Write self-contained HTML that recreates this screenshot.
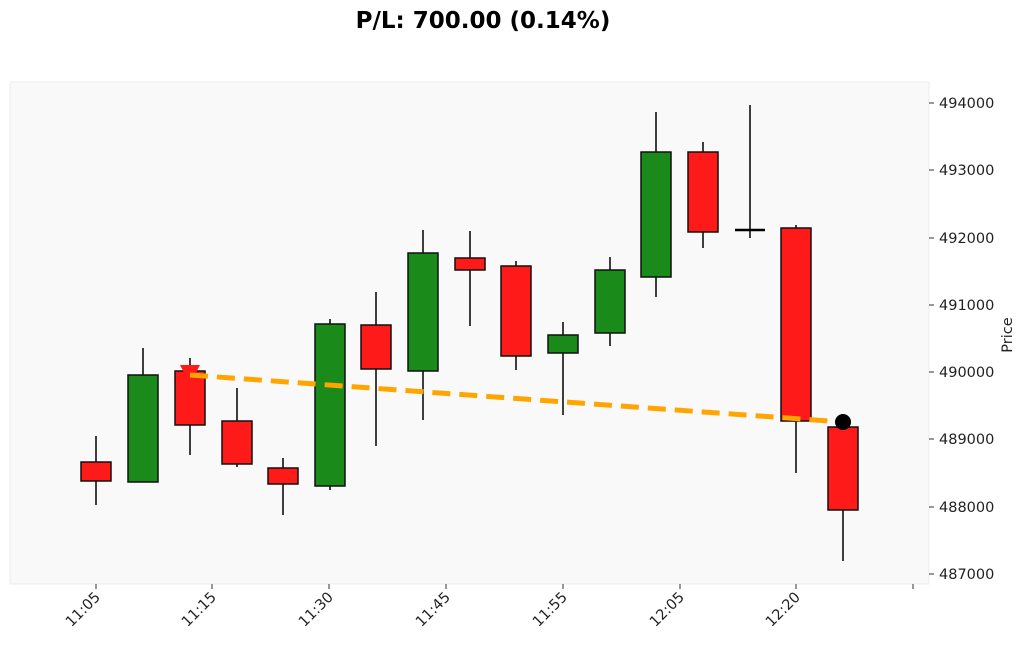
<!DOCTYPE html><html><head><meta charset="utf-8"><style>body{margin:0;background:#fff}</style></head><body>
<svg width="1024" height="644" viewBox="0 0 1024 644" xmlns="http://www.w3.org/2000/svg" font-family="'DejaVu Sans','Liberation Sans',sans-serif">
<rect width="1024" height="644" fill="#fff"/>
<text x="483" y="28" text-anchor="middle" font-size="23" font-weight="bold" fill="#000">P/L: 700.00 (0.14%)</text>
<rect x="10" y="82" width="919" height="502" fill="#f9f9f9" stroke="#ececec"/>
<g stroke="#000" stroke-width="1.5">
<line x1="96" y1="436" x2="96" y2="505"/><line x1="143" y1="348" x2="143" y2="482"/><line x1="190" y1="358" x2="190" y2="455"/><line x1="237" y1="388" x2="237" y2="467"/><line x1="283" y1="458" x2="283" y2="515"/><line x1="330" y1="319" x2="330" y2="490"/><line x1="376" y1="292" x2="376" y2="446"/><line x1="423" y1="230" x2="423" y2="420"/><line x1="470" y1="231" x2="470" y2="326"/><line x1="516" y1="261" x2="516" y2="370"/><line x1="563" y1="322" x2="563" y2="415"/><line x1="610" y1="257" x2="610" y2="346"/><line x1="656" y1="112" x2="656" y2="297"/><line x1="703" y1="142" x2="703" y2="248"/><line x1="750" y1="105" x2="750" y2="238"/><line x1="796" y1="225" x2="796" y2="473"/><line x1="843" y1="427" x2="843" y2="561"/>
</g>
<g stroke="#111" stroke-width="1.5">
<rect x="81" y="462" width="30" height="19" fill="#ff1a1a"/>
<rect x="128" y="375" width="30" height="107" fill="#1a8a1a"/>
<rect x="175" y="371" width="30" height="54" fill="#ff1a1a"/>
<rect x="222" y="421" width="30" height="43" fill="#ff1a1a"/>
<rect x="268" y="468" width="30" height="16" fill="#ff1a1a"/>
<rect x="315" y="324" width="30" height="162" fill="#1a8a1a"/>
<rect x="361" y="325" width="30" height="44" fill="#ff1a1a"/>
<rect x="408" y="253" width="30" height="118" fill="#1a8a1a"/>
<rect x="455" y="258" width="30" height="12" fill="#ff1a1a"/>
<rect x="501" y="266" width="30" height="90" fill="#ff1a1a"/>
<rect x="548" y="335" width="30" height="18" fill="#1a8a1a"/>
<rect x="595" y="270" width="30" height="63" fill="#1a8a1a"/>
<rect x="641" y="152" width="30" height="125" fill="#1a8a1a"/>
<rect x="688" y="152" width="30" height="80" fill="#ff1a1a"/>
<rect x="781" y="228" width="30" height="193" fill="#ff1a1a"/>
<rect x="828" y="427" width="30" height="83" fill="#ff1a1a"/>
</g>
<line x1="735" y1="230" x2="765" y2="230" stroke="#000" stroke-width="2.5"/>
<polygon points="180,365 200,365 190,384" fill="#ff1a1a"/>
<line x1="190" y1="375" x2="843" y2="422" stroke="#ffa500" stroke-width="5" stroke-dasharray="18,9"/>
<circle cx="843" cy="422" r="8" fill="#000"/>
<g font-size="14.5" fill="#222">
<g stroke="#333"><line x1="929" y1="103" x2="934" y2="103"/><line x1="929" y1="170" x2="934" y2="170"/><line x1="929" y1="238" x2="934" y2="238"/><line x1="929" y1="305" x2="934" y2="305"/><line x1="929" y1="372" x2="934" y2="372"/><line x1="929" y1="439" x2="934" y2="439"/><line x1="929" y1="507" x2="934" y2="507"/><line x1="929" y1="574" x2="934" y2="574"/></g>
<text x="939" y="108">494000</text><text x="939" y="175">493000</text><text x="939" y="243">492000</text><text x="939" y="310">491000</text><text x="939" y="377">490000</text><text x="939" y="444">489000</text><text x="939" y="512">488000</text><text x="939" y="579">487000</text>
<text transform="translate(1012,335) rotate(-90)" text-anchor="middle">Price</text>
<g stroke="#333"><line x1="96" y1="584" x2="96" y2="589"/><line x1="212" y1="584" x2="212" y2="589"/><line x1="329" y1="584" x2="329" y2="589"/><line x1="446" y1="584" x2="446" y2="589"/><line x1="563" y1="584" x2="563" y2="589"/><line x1="680" y1="584" x2="680" y2="589"/><line x1="796" y1="584" x2="796" y2="589"/><line x1="913" y1="584" x2="913" y2="589"/></g>
<text transform="translate(101,598) rotate(-45)" text-anchor="end">11:05</text>
<text transform="translate(217,598) rotate(-45)" text-anchor="end">11:15</text>
<text transform="translate(334,598) rotate(-45)" text-anchor="end">11:30</text>
<text transform="translate(451,598) rotate(-45)" text-anchor="end">11:45</text>
<text transform="translate(568,598) rotate(-45)" text-anchor="end">11:55</text>
<text transform="translate(685,598) rotate(-45)" text-anchor="end">12:05</text>
<text transform="translate(801,598) rotate(-45)" text-anchor="end">12:20</text>
</g>
</svg></body></html>
